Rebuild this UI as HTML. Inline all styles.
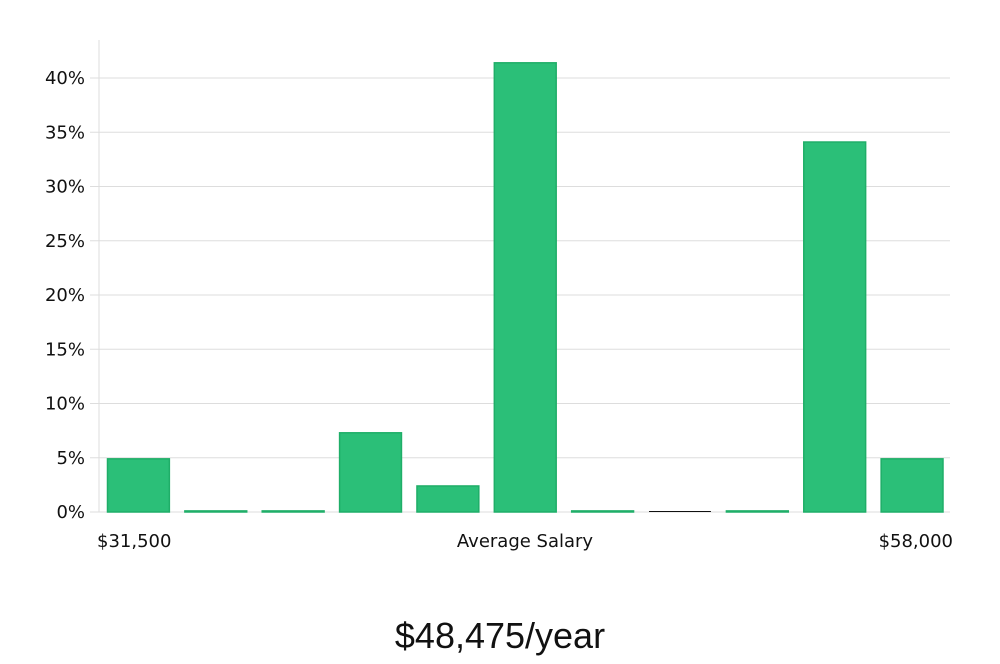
<!DOCTYPE html>
<html><head><meta charset="utf-8"><style>
body{margin:0;background:#fff;font-family:"DejaVu Sans","Liberation Sans",sans-serif;}
</style></head><body>
<svg id="chart" width="1000" height="660" xmlns="http://www.w3.org/2000/svg">
<g id="grid"></g><g id="bars"></g><g id="labels"></g>
<text x="97" y="547" font-size="18" fill="#111">$31,500</text>
<text x="525" y="547" font-size="18" fill="#111" text-anchor="middle">Average Salary</text>
<text x="953" y="547" font-size="18" fill="#111" text-anchor="end">$58,000</text>
<text x="500" y="648" font-size="36" fill="#111" text-anchor="middle" font-family="Liberation Sans, sans-serif" font-weight="300">$48,475/year</text>
</svg>
<script>
const categories=["b1","b2","b3","b4","b5","b6","b7","b8","b9","b10","b11"];
const values=[4.9,0.1,0.1,7.3,2.4,41.4,0.1,0,0.1,34.1,4.9];
const yTicks=[0,5,10,15,20,25,30,35,40];
const NS="http://www.w3.org/2000/svg";
const x0=99,x1=950,yBase=512,yTop40=78;
const y=v=>yBase-(v/40)*(yBase-yTop40);
const slot=(x1-x0)/categories.length;
function mk(t,a,p){const e=document.createElementNS(NS,t);for(const k in a)e.setAttribute(k,a[k]);p.appendChild(e);return e;}
const grid=document.getElementById('grid'),bars=document.getElementById('bars'),labels=document.getElementById('labels');
const ax=mk('line',{x1:x0,x2:x0,y1:40,y2:yBase,stroke:'#ddd','stroke-width':1},grid);

yTicks.forEach(t=>{
 const l=mk('line',{x1:90,x2:x1,y1:y(t),y2:y(t),stroke:'#ddd','stroke-width':1},grid);
 
 const tx=mk('text',{x:85,y:y(t)+6,'font-size':18,fill:'#111','text-anchor':'end'},labels);
 tx.textContent=t+'%';
 
});
values.forEach((v,i)=>{
 const bx=x0+i*slot+8.5,bw=slot-15.5;
 let r;
 if(v<=0){r=mk('rect',{x:bx,y:yBase-1,width:bw,height:1,fill:'#111'},bars);}
 else{const top=y(v);r=mk('rect',{x:bx,y:top,width:bw,height:Math.max(1,yBase-top),fill:'#2bbf78',stroke:'#1fae68','stroke-width':1.5},bars);}
 
});
</script>
</body></html>
